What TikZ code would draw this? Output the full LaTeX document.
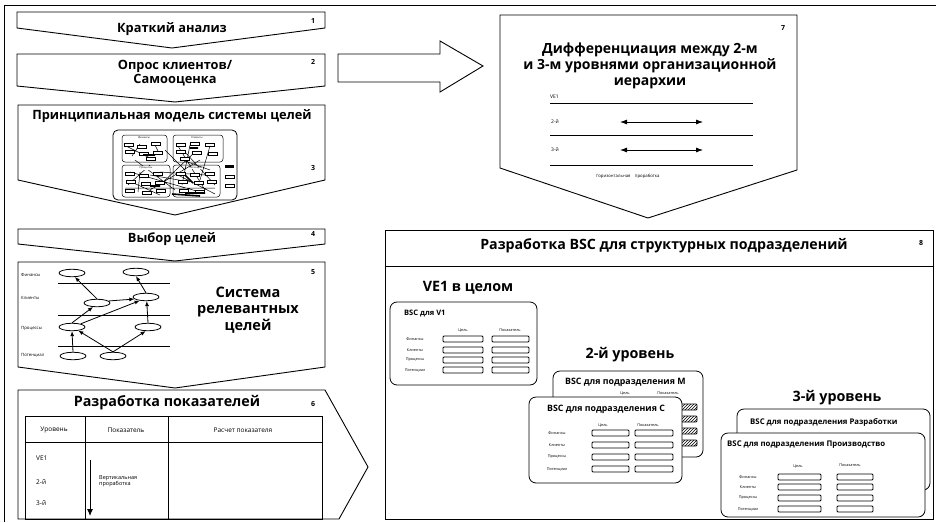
\documentclass[tikz,border=0pt]{standalone}
\usepackage{fontspec}
\setmainfont{Open Sans}
\usetikzlibrary{arrows.meta,shapes.geometric,patterns}
\begin{document}
\begin{tikzpicture}[x=1pt,y=-1pt,
  chev/.style={draw, line width=0.9pt, fill=white, line join=miter},
  ttl/.style={font=\bfseries\fontsize{12.8}{14.5}\selectfont, align=center, inner sep=0},
  big/.style={font=\bfseries\fontsize{14.5}{16.5}\selectfont, align=center, inner sep=0},
  num/.style={font=\bfseries\fontsize{7}{8}\selectfont, inner sep=0},
  lbl/.style={font=\fontsize{3.8}{4}\selectfont, inner sep=0},
  sml/.style={font=\fontsize{6.5}{7}\selectfont, inner sep=0},
  mini/.style={font=\fontsize{2.6}{3}\selectfont, inner sep=0},
  ell/.style={ellipse, draw, line width=0.8pt, minimum width=26pt, minimum height=7.5pt, inner sep=0, fill=white},
  arr/.style={-{Latex[length=5pt,width=4pt]}, line width=0.8pt},
  darr/.style={{Latex[length=7pt,width=5pt]}-{Latex[length=7pt,width=5pt]}, line width=0.8pt},
  card/.style={draw, line width=0.8pt, fill=white, rounded corners=7pt},
  cell/.style={draw, line width=0.8pt, rounded corners=1pt, fill=white},
  ctitle/.style={font=\bfseries\fontsize{7.5}{8}\selectfont, inner sep=0, anchor=west},
  lvl/.style={font=\bfseries\fontsize{14.3}{15}\selectfont, inner sep=0},
  frame/.style={line width=0.8pt}
]
\useasboundingbox (0,0) rectangle (936,522);
\fill[white] (0,0) rectangle (936,522);

% frame
\draw[frame] (4,522) -- (4,5) -- (936,5);

% ---------- step 1 ----------
\draw[chev] (17,12) -- (325,12) -- (325,28) -- (172,48) -- (17,28) -- cycle;
\node[ttl] (t1) at (172,29) {Краткий анализ};
\node[num] (n1) at (313,21) {1};

% ---------- step 2 ----------
\draw[chev] (17,54) -- (325,54) -- (325,86) -- (175,102) -- (17,86) -- cycle;
\node[ttl] (t2) at (175,73) {Опрос клиентов/\\Самооценка};
\node[num] (n2) at (313,62) {2};

% ---------- step 3 ----------
\draw[chev] (18,105) -- (325,105) -- (325,180) -- (175,215) -- (18,180) -- cycle;
\node[ttl] (t3) at (172,116) {Принципиальная модель системы целей};
\node[num] (n3) at (313,168) {3};
% mini diagram
\begin{scope}[line width=0.5pt]
\draw[rounded corners=5pt, line width=0.8pt] (113,130) rectangle (237,200);
\draw[rounded corners=3pt] (122,135) rectangle (167,162);
\draw[rounded corners=3pt] (173,135) rectangle (223,162);
\draw[rounded corners=3pt] (122,165) rectangle (170,197);
\draw[rounded corners=3pt] (173,165) rectangle (220,197);
\draw (126,146) -- (150,158) (140,144) -- (132,156) (155,145) -- (160,155)
      (178,146) -- (205,190) (190,145) -- (182,185) (210,146) -- (200,180)
      (185,152) -- (215,185) (130,172) -- (200,192) (150,175) -- (190,182)
      (127,180) -- (160,195) (140,172) -- (138,192) (160,172) -- (205,175)
      (178,175) -- (215,194) (195,152) -- (160,185) (200,160) -- (150,190)
      (165,150) -- (185,170) (125,188) -- (215,188) (135,160) -- (175,190)
      (182,160) -- (210,170) (150,165) -- (128,185);
\foreach \a/\b in {124/143,137/145,151/142,125/150,139/152,153/151,146/157,
                   176/143,190/142,205/143,176/150,192/151,208/152,180/157,
                   125/172,139/174,153/172,126/180,141/182,155/181,125/189,142/191,156/189,
                   176/172,190/173,205/172,178/180,194/181,207/180,179/189,195/190}
  \draw[fill=white] (\a,\b) rectangle +(9,3);
\draw[line width=1.6pt] (143,155) -- (155,155) (185,175) -- (193,183) (185,193) -- (205,193)
  (150,186) -- (160,186) (190,148) -- (198,148) (172,194) -- (200,196);
\node[mini, fill=white, inner sep=0.3pt] (m1) at (144,138) {Финансы};
\node[mini, fill=white, inner sep=0.3pt] (m2) at (197,138) {Клиенты};
\node[mini, fill=white, inner sep=0.3pt] (m3) at (146,168) {Процессы};
\node[mini, fill=white, inner sep=0.3pt] (m4) at (196,168) {Потенциал};
\fill (225,165) rectangle (234,168);
\draw (225,175) rectangle (234,178) (225,184) rectangle (234,187);
\end{scope}

% ---------- step 4 ----------
\draw[chev] (18,229) -- (325,229) -- (325,244) -- (175,261) -- (18,244) -- cycle;
\node[ttl] (t4) at (172,239.5) {Выбор целей};
\node[num] (n4) at (313,234) {4};

% ---------- step 5 ----------
\draw[chev] (18,262) -- (325,262) -- (325,367) -- (175,388) -- (18,367) -- cycle;
\node[num] (n5) at (313,272) {5};
\node[big] (t5) at (248,310) {Система\\релевантных\\целей};
\foreach \yy in {283,315,346} \draw[line width=0.7pt] (58,\yy) -- (170,\yy);
\node[lbl, anchor=west, font=\fontsize{4.3}{5}\selectfont] (lf) at (21,275) {Финансы};
\node[lbl, anchor=west, font=\fontsize{4.3}{5}\selectfont] (lk) at (21,298) {Клиенты};
\node[lbl, anchor=west, font=\fontsize{4.3}{5}\selectfont] (lp) at (21,328) {Процессы};
\node[lbl, anchor=west, font=\fontsize{4.3}{5}\selectfont] (lpo) at (21,355) {Потенциал};
\node[ell] (f1) at (72,273) {};
\node[ell] (f2) at (136,272) {};
\node[ell] (k1) at (97,303) {};
\node[ell] (k2) at (146,297) {};
\node[ell] (p1) at (72,327) {};
\node[ell] (p2) at (148,327) {};
\node[ell] (o1) at (73,356) {};
\node[ell] (o2) at (113,356) {};
\draw[arr] (k1.north) -- (f1.-55);
\draw[arr] (k2.north) -- (f2.south);
\draw[arr] (p1.north) -- (k1.-135);
\draw[arr] (p1.20) -- (k2.-150);
\draw[arr] (k1.10) -- (k2.190);
\draw[arr] (p2.north) -- (k2.-80);
\draw[arr] (o1.north) -- (p1.south);
\draw[arr] (o2.north) -- (p1.-30);
\draw[arr] (o2.north) -- (p2.-120);

% ---------- step 6 ----------
\draw[chev] (18,390) -- (325,390) -- (368,467) -- (339,519) -- (18,519) -- cycle;
\node[ttl, font=\bfseries\fontsize{14.3}{15}\selectfont] (t6) at (167,403) {Разработка показателей};
\node[num] (n6) at (313,404) {6};
\draw[line width=0.8pt] (25,416) rectangle (322,519);
\draw[line width=0.8pt] (25,442) -- (322,442) (85,416) -- (85,519) (168,416) -- (168,519);
\node[sml] (h1) at (54,430) {Уровень};
\node[sml] (h2) at (126,430) {Показатель};
\node[sml] (h3) at (243,430) {Расчет показателя};
\node[sml, anchor=west] (r1) at (36,458) {VE1};
\node[sml, anchor=west] (r2) at (36,482) {2-й};
\node[sml, anchor=west] (r3) at (36,503) {3-й};
\coordinate (va) at (90,460);
\coordinate (vb) at (90,516);
\draw[-{Latex[length=7pt,width=6pt]}, line width=0.9pt] (va) -- (vb);
\node[font=\fontsize{5.5}{5}\selectfont, align=left, inner sep=0, anchor=west] (vt) at (99,481) {Вертикальная\\проработка};

% ---------- big arrow 2 -> 7 ----------
\draw[chev] (338,54) -- (440,54) -- (440,41) -- (483,66) -- (440,92) -- (440,82) -- (338,82) -- cycle;

% ---------- step 7 ----------
\draw[chev] (500,15) -- (797,15) -- (797,170) -- (648,218) -- (500,168) -- cycle;
\node[num] (n7) at (783,28) {7};
\node[ttl, font=\bfseries\fontsize{14}{16}\selectfont] (t7) at (650,66) {Дифференциация между 2-м\\и 3-м уровнями организационной\\иерархии};
\foreach \yy in {103,135,165} \draw[line width=0.8pt] (550,\yy) -- (753,\yy);
\node[lbl, anchor=west, font=\fontsize{5}{5}\selectfont] (s1) at (550,97) {VE1};
\node[lbl, anchor=west, font=\fontsize{5}{5}\selectfont] (s2) at (551,122) {2-й};
\node[lbl, anchor=west, font=\fontsize{5}{5}\selectfont] (s3) at (551,150) {3-й};
\coordinate (d1a) at (620,122); \coordinate (d1b) at (703,122);
\coordinate (d2a) at (620,150); \coordinate (d2b) at (703,150);
\draw[darr] (d1a) -- (d1b);
\draw[darr] (d2a) -- (d2b);
\node[lbl, font=\fontsize{4.3}{5}\selectfont] (s4) at (628,176) {Горизонтальная\quad проработка};

% ---------- box 8 ----------
\draw[line width=0.9pt, fill=white] (385,230) rectangle (933,519);
\draw[line width=0.9pt] (385,266) -- (933,266);
\node[ttl, font=\bfseries\fontsize{14.2}{15}\selectfont] (t8) at (664,246) {Разработка BSC для структурных подразделений};
\node[num] (n8) at (921,243) {8};

% VE1 level
\node[lvl] (L1) at (468,288) {VE1 в целом};
\draw[card] (390,302) rectangle (537,385);
\node[ctitle] (c1t) at (404,314) {BSC для V1};
\node[lbl] (c1a) at (463,330) {Цель};
\node[lbl] (c1b) at (510,330) {Показатель};
\foreach \yy/\tt in {339/Финансы,350/Клиенты,360/Процессы,370/Потенциал} {
  \node[lbl] at (415,\yy) {\tt};
  \draw[cell] (443,\yy-3) rectangle (483,\yy+3);
  \draw[cell] (492,\yy-3) rectangle (529,\yy+3);
}

% 2nd level
\node[lvl] (L2) at (630,355) {2-й уровень};
\draw[card] (553,371) rectangle (703,457);
\node[ctitle, font=\bfseries\fontsize{8.8}{9}\selectfont] (c2t) at (565,382) {BSC для подразделения M};
\node[lbl] (c2a) at (625,393) {Цель};
\node[lbl] (c2b) at (668,393) {Показатель};
\foreach \yy in {407,419,431,443} {
  \draw[cell, pattern=north east lines] (650,\yy-3) rectangle (697,\yy+3);
}
\draw[card] (529,397) rectangle (682,483);
\node[ctitle, font=\bfseries\fontsize{8.8}{9}\selectfont] (c3t) at (547,409) {BSC для подразделения C};
\node[lbl] (c3a) at (603,425) {Цель};
\node[lbl] (c3b) at (648,425) {Показатель};
\foreach \yy/\tt in {433/Финансы,445/Клиенты,457/Процессы,469/Потенциал} {
  \node[lbl] at (557,\yy) {\tt};
  \draw[cell] (592,\yy-3) rectangle (629,\yy+3);
  \draw[cell] (635,\yy-3) rectangle (673,\yy+3);
}

% 3rd level
\node[lvl] (L3) at (837,398) {3-й уровень};
\draw[card] (737,409) rectangle (930,490);
\node[ctitle, font=\bfseries\fontsize{7.8}{8}\selectfont] (c4t) at (750,422) {BSC для подразделения Разработки};
\draw[card] (721,433) rectangle (925,517);
\node[ctitle, font=\bfseries\fontsize{7.8}{8}\selectfont] (c5t) at (727,445) {BSC для подразделения Производство};
\node[lbl] (c5a) at (798,466) {Цель};
\node[lbl] (c5b) at (850,465) {Показатель};
\foreach \yy/\tt in {477/Финансы,487/Клиенты,498/Процессы,509/Потенциал} {
  \node[lbl] at (748,\yy) {\tt};
  \draw[cell] (778,\yy-3) rectangle (821,\yy+3);
  \draw[cell] (837,\yy-3) rectangle (873,\yy+3);
}
\end{tikzpicture}
\end{document}
